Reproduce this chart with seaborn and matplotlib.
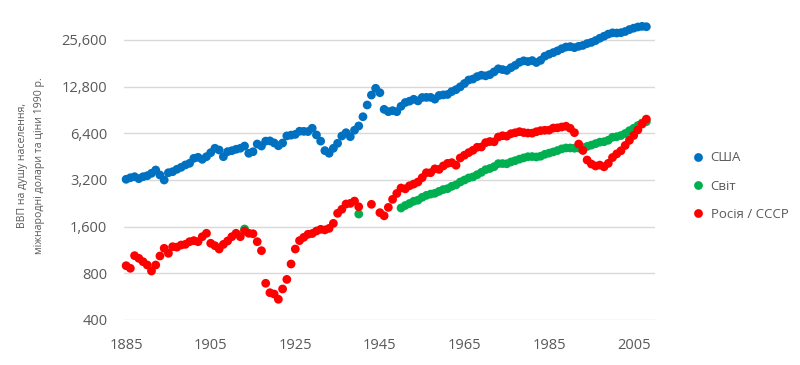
import numpy as np
import pandas as pd
import matplotlib
matplotlib.use("Agg")
import matplotlib.pyplot as plt
from matplotlib.ticker import FixedLocator, FuncFormatter, NullLocator
import seaborn as sns

# ---------------- data ----------------
us_years = list(range(1885, 2009))
us_values = [
    3233, 3310, 3360, 3264, 3360, 3410, 3535, 3712, 3446, 3200,   # 1885-1894
    3566, 3620, 3750, 3862, 4000, 4100, 4414, 4482, 4350, 4525,   # 1895-1904
    4800, 5125, 4995, 4525, 4873, 4945, 5050, 5125, 5300, 4757,   # 1905-1914
    4870, 5460, 5300, 5700, 5720, 5550, 5320, 5540, 6160, 6230,   # 1915-1924
    6300, 6600, 6590, 6570, 6900, 6250, 5700, 4950, 4760, 5125,   # 1925-1934
    5520, 6150, 6460, 6090, 6700, 7140, 8190, 9750, 11300, 12490, # 1935-1944
    11700, 9140, 8830, 8960, 8830, 9561, 10116, 10316, 10613, 10359,  # 1945-1954
    10897, 10914, 10920, 10631, 11230, 11328, 11402, 11905, 12242, 12773,  # 1955-1964
    13419, 14134, 14330, 14863, 15179, 15030, 15304, 15944, 16689, 16491,  # 1965-1974
    16284, 16975, 17567, 18373, 18789, 18577, 18856, 18325, 18920, 20123,  # 1975-1984
    20717, 21236, 21788, 22499, 23059, 23201, 22849, 23298, 23616, 24284,  # 1985-1994
    24705, 25389, 26272, 27076, 27938, 28467, 28387, 28540, 29036, 29888,  # 1995-2004
    30519, 31049, 31357, 31178,                                            # 2005-2008
]

world_years = [1913, 1940] + list(range(1950, 2009))
world_values = [
    1545, 1930,
    2111, 2192, 2257, 2334, 2371, 2473, 2547, 2596, 2626, 2702,   # 1950-1959
    2777, 2814, 2912, 2977, 3105, 3198, 3299, 3349, 3461, 3585,   # 1960-1969
    3729, 3796, 3900, 4080, 4084, 4071, 4184, 4265, 4362, 4443,   # 1970-1979
    4520, 4532, 4505, 4553, 4686, 4771, 4855, 4955, 5081, 5150,   # 1980-1989
    5149, 5128, 5146, 5174, 5268, 5371, 5490, 5615, 5651, 5776,   # 1990-1999
    6038, 6086, 6194, 6384, 6658, 6899, 7187, 7468, 7614,         # 2000-2008
]

ru_years = list(range(1885, 1941)) + [1943] + list(range(1945, 2009))
ru_values = [
    896, 862, 1040, 1000, 951, 905, 828, 905, 1035, 1160,         # 1885-1894
    1077, 1188, 1180, 1218, 1230, 1280, 1300, 1280, 1378, 1450,   # 1895-1904
    1250, 1206, 1148, 1230, 1293, 1378, 1450, 1378, 1500, 1450,   # 1905-1914
    1440, 1280, 1120, 690, 600, 588, 544, 634, 731, 919,          # 1915-1924
    1148, 1300, 1365, 1428, 1445, 1500, 1538, 1525, 1560, 1680,   # 1925-1934
    1950, 2070, 2240, 2260, 2340, 2150,                           # 1935-1940
    2230,                                                         # 1943
    1970, 1880, 2130, 2400, 2620,                                 # 1945-1949
    2841, 2806, 2937, 3013, 3106, 3313, 3566, 3567, 3777, 3745,   # 1950-1959
    3945, 4098, 4140, 3985, 4439, 4626, 4806, 4972, 5202, 5225,   # 1960-1969
    5575, 5667, 5643, 6059, 6176, 6135, 6363, 6454, 6559, 6472,   # 1970-1979
    6427, 6417, 6554, 6659, 6696, 6708, 6924, 6943, 7032, 7112,   # 1980-1989
    6894, 6463, 5459, 4961, 4306, 4058, 3942, 3993, 3893, 4096,   # 1990-1999
    4467, 4717, 4941, 5345, 5768, 6200, 6735, 7343, 7904,         # 2000-2008
]

series_names = ["США", "Світ", "Росія / СССР"]
series_colors = ["#0070C0", "#00B050", "#FF0000"]
y_ticks = [400, 800, 1600, 3200, 6400, 12800, 25600]
x_ticks = [1885, 1905, 1925, 1945, 1965, 1985, 2005]
y_label = "ВВП на душу населення,\nміжнародні долари та ціни 1990 р."

df = pd.concat([
    pd.DataFrame({"year": us_years, "value": us_values, "series": series_names[0]}),
    pd.DataFrame({"year": world_years, "value": world_values, "series": series_names[1]}),
    pd.DataFrame({"year": ru_years, "value": ru_values, "series": series_names[2]}),
], ignore_index=True)

# ---------------- style ----------------
sns.set_theme(style="white")
plt.rcParams["font.family"] = ["Open Sans", "DejaVu Sans"]
text_gray = "#595959"

fig = plt.figure(figsize=(8.0, 3.65), dpi=100)
ax = fig.add_axes([0.155, 0.1233, 0.6635, 0.83])

sns.scatterplot(
    data=df, x="year", y="value", hue="series",
    hue_order=series_names, palette=dict(zip(series_names, series_colors)),
    s=40, linewidth=0, alpha=1.0, ax=ax, legend=True, zorder=3, clip_on=False,
)

ax.set_yscale("log", base=2)
ax.set_ylim(400, 36000)
ax.set_xlim(1884.5, 2010)

ax.yaxis.set_major_locator(FixedLocator(y_ticks))
ax.yaxis.set_minor_locator(NullLocator())
ax.yaxis.set_major_formatter(FuncFormatter(lambda v, p: f"{int(round(v)):,}"))
ax.set_xticks(x_ticks)

ax.grid(axis="y", color="#d9d9d9", linewidth=1.0, zorder=0)
ax.grid(axis="x", visible=False)
for sp in ax.spines.values():
    sp.set_visible(False)

ax.tick_params(axis="both", length=0, colors=text_gray, labelsize=10.5)
ax.tick_params(axis="y", pad=12)
ax.tick_params(axis="x", pad=13)

ax.set_xlabel("")
ax.set_ylabel(y_label, color=text_gray, fontsize=7.6, linespacing=1.75)
ax.yaxis.set_label_coords(-0.149, 0.51)

handles, labels = ax.get_legend_handles_labels()
if ax.get_legend() is not None:
    ax.get_legend().remove()
leg = fig.legend(
    handles, labels, loc="upper left", bbox_to_anchor=(0.866, 0.585),
    bbox_transform=fig.transFigure, frameon=False, fontsize=9.5,
    handlelength=0.8, handletextpad=0.55, labelspacing=1.15, markerscale=1.0,
    borderaxespad=0, borderpad=0,
)
for t in leg.get_texts():
    t.set_color(text_gray)

fig.savefig("out.png", dpi=100, facecolor="white")
